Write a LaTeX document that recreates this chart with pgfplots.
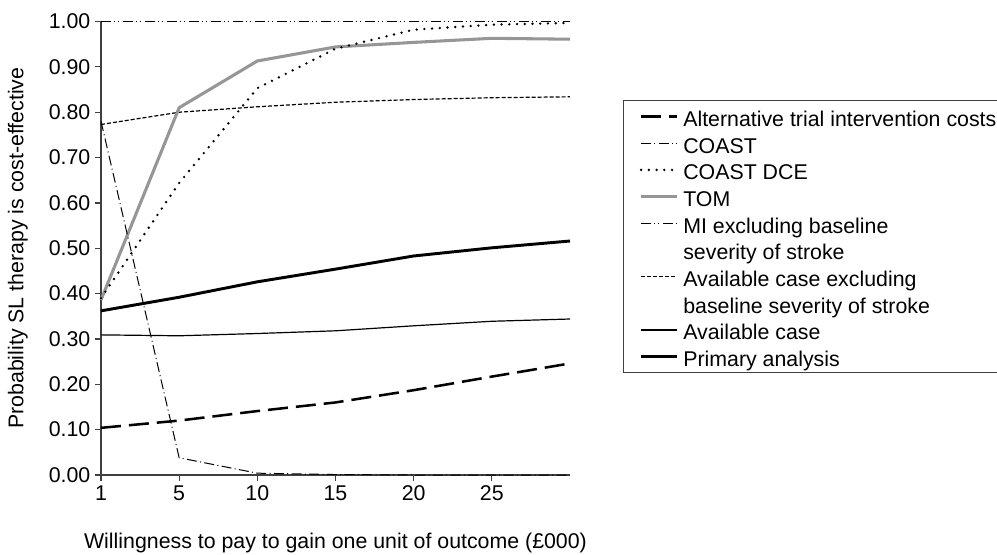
\documentclass[border=0pt]{standalone}
\usepackage{pgfplots}
\pgfplotsset{compat=1.18}
\usepackage{fontspec}
\setmainfont{Liberation Sans}
\definecolor{axgray}{RGB}{64,64,64}
\definecolor{tomgray}{RGB}{150,150,150}
\begin{document}
\begin{tikzpicture}
\begin{axis}[
  at={(0,0)}, anchor=south west,
  scale only axis, width=351.75pt, height=340.1pt,
  xmin=0, xmax=6, ymin=0, ymax=1,
  clip=false,
  axis lines*=left,
  axis line style={draw=axgray, line width=1.1pt, -},
  tick style={draw=axgray, line width=0.9pt},
  tick align=outside, major tick length=4.5pt,
  xtick={0,1,2,3,4,5}, xticklabels={1,5,10,15,20,25},
  ytick={0,0.1,0.2,0.3,0.4,0.5,0.6,0.7,0.8,0.9,1.0},
  yticklabel style={/pgf/number format/.cd, fixed, fixed zerofill, precision=2},
  /pgf/number format/assume math mode=true,
  tick label style={font=\fontsize{16}{19}\selectfont},
  every axis x label/.style={at={(axis description cs:0.5,-0.15)}, anchor=center, font=\fontsize{16}{19}\selectfont},
  every axis y label/.style={at={(axis description cs:-0.177,0.5)}, rotate=90, anchor=center, font=\fontsize{16}{19}\selectfont},
  xlabel={Willingness to pay to gain one unit of outcome (£000)},
  ylabel={Probability SL therapy is cost-effective},
  legend cell align=left,
  legend image code/.code={\draw[#1] (0pt,0pt) -- (27pt,0pt);},
  legend style={at={(1.113,0.827)}, anchor=north west, draw=axgray, line width=0.9pt,
    inner xsep=12pt, inner ysep=2pt, row sep=0pt, column sep=2pt,
    font=\fontsize{16}{19}\selectfont,
    nodes={inner xsep=1.5pt, inner ysep=2.5pt, text height=15pt, text depth=0pt}},
  altstyle/.style={black, line width=1.9pt, dash pattern=on 15pt off 6pt},
  coaststyle/.style={black, line width=0.75pt, dash pattern=on 7.5pt off 2.5pt on 0.75pt off 2.5pt},
  dcestyle/.style={black, line width=2pt, line cap=round, dash pattern=on 0pt off 5.8pt},
  tomstyle/.style={tomgray, line width=2.3pt},
  mistyle/.style={black, line width=1.1pt, dash pattern=on 7.5pt off 2pt on 1pt off 2pt on 1pt off 3pt},
  avexstyle/.style={black, line width=0.9pt, dash pattern=on 3pt off 1.5pt},
  avstyle/.style={black, line width=0.9pt},
  primstyle/.style={black, line width=2.2pt},
]
% legend
\addlegendimage{altstyle}\addlegendentry{Alternative trial intervention costs}
\addlegendimage{coaststyle}\addlegendentry{COAST}
\addlegendimage{dcestyle}\addlegendentry{COAST DCE}
\addlegendimage{tomstyle}\addlegendentry{TOM}
\addlegendimage{mistyle}\addlegendentry{MI excluding baseline}
\addlegendimage{empty legend}\addlegendentry{severity of stroke}
\addlegendimage{avexstyle}\addlegendentry{Available case excluding}
\addlegendimage{empty legend}\addlegendentry{baseline severity of stroke}
\addlegendimage{avstyle}\addlegendentry{Available case}
\addlegendimage{primstyle}\addlegendentry{Primary analysis}
% data (x index: 0=1, 1=5, 2=10, 3=15, 4=20, 5=25, 6=30)
\addplot[avexstyle, forget plot] coordinates {(0,0.773) (1,0.800) (2,0.812) (3,0.822) (4,0.828) (5,0.832) (6,0.834)};
\addplot[avstyle, forget plot] coordinates {(0,0.309) (1,0.307) (2,0.312) (3,0.318) (4,0.329) (5,0.339) (6,0.344)};
\addplot[altstyle, forget plot] coordinates {(0,0.104) (1,0.120) (2,0.141) (3,0.160) (4,0.187) (5,0.217) (6,0.246)};
\addplot[tomstyle, forget plot] coordinates {(0,0.386) (1,0.810) (2,0.913) (3,0.944) (4,0.954) (5,0.963) (6,0.961)};
\addplot[dcestyle, forget plot] coordinates {(0,0.390) (1,0.644) (2,0.853) (3,0.940) (4,0.982) (5,0.993) (6,0.997)};
\addplot[coaststyle, forget plot] coordinates {(0,0.780) (1,0.038) (2,0.004) (3,0.001) (4,0.000) (5,0.000) (6,0.000)};
\addplot[mistyle, forget plot] coordinates {(0,1) (1,1) (2,1) (3,1) (4,1) (5,1) (6,1)};
\addplot[primstyle, forget plot] coordinates {(0,0.362) (1,0.392) (2,0.426) (3,0.454) (4,0.483) (5,0.501) (6,0.516)};
\end{axis}
\pgfresetboundingbox
\path[use as bounding box] (-75.75pt,-59.25pt) rectangle (672pt,356.25pt);
\end{tikzpicture}
\end{document}
